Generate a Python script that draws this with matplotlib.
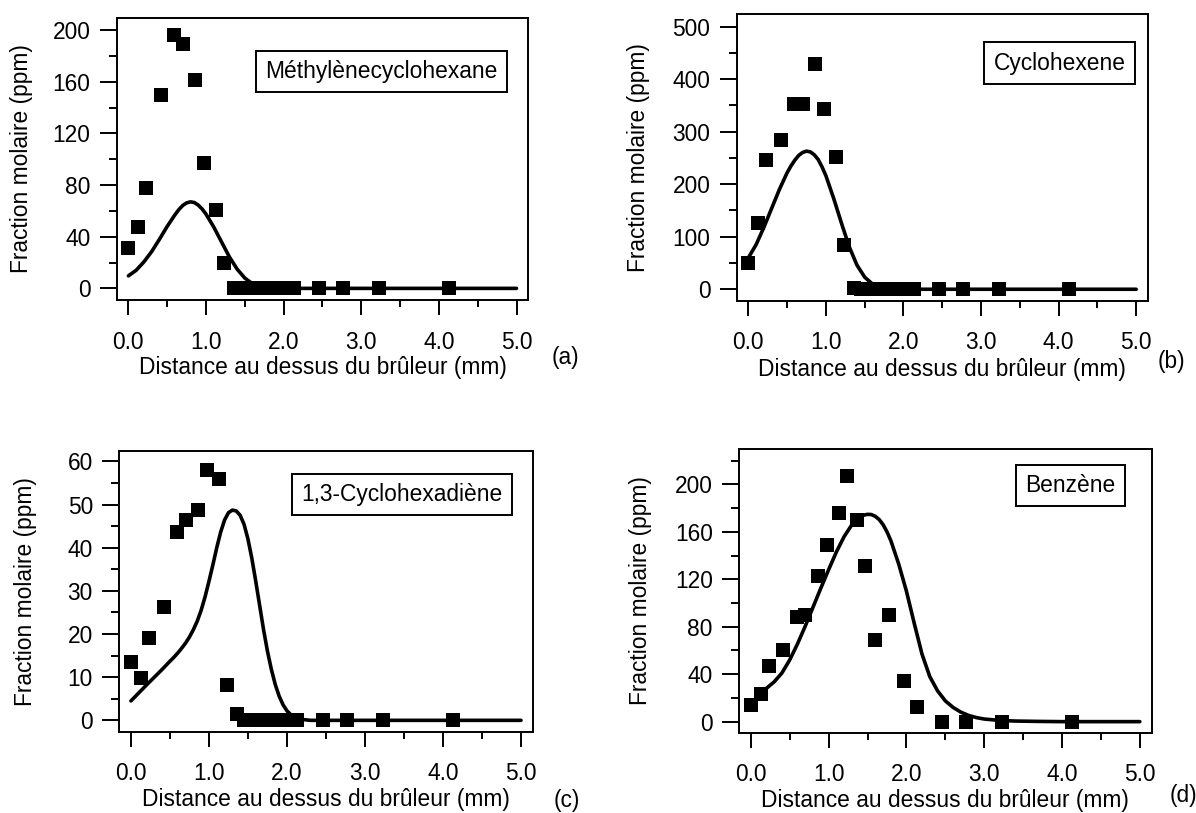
import matplotlib
matplotlib.use("Agg")
import matplotlib.pyplot as plt
from matplotlib.ticker import MultipleLocator, FormatStrFormatter

plt.rcParams['font.family'] = ['Liberation Sans', 'DejaVu Sans']
plt.rcParams['font.size'] = 16.4

# measured heights above the burner (mm)
x_c6 = [0.0, 0.13, 0.23, 0.42, 0.59, 0.70, 0.86, 0.98, 1.13, 1.23,
        1.36, 1.45, 1.55, 1.65, 1.75, 1.85, 1.95, 2.05, 2.13,
        2.46, 2.77, 3.23, 4.13]
x_benz = [0.0, 0.13, 0.23, 0.42, 0.59, 0.70, 0.86, 0.98, 1.13, 1.23,
          1.36, 1.47, 1.60, 1.78, 1.97, 2.13, 2.46, 2.77, 3.23, 4.13]

# experimental mole fractions (ppm)
methylenecyclohexane = [31.5, 47.7, 77.7, 150, 196, 189, 161.5, 97.4, 61, 19.5,
                        0, 0, 0, 0, 0, 0, 0, 0, 0,
                        0, 0, 0, 0]
cyclohexene = [50.6, 126.6, 247, 285, 352.5, 352.5, 429, 343, 252, 83.5,
               3, 0, 0, 0, 0, 0, 0, 0, 0,
               0, 0, 0, 0]
cyclohexadiene = [13.6, 9.7, 19, 26.2, 43.6, 46.3, 48.8, 58.1, 56, 8.2,
                  1.5, 0, 0, 0, 0, 0, 0, 0, 0,
                  0, 0, 0, 0]
benzene = [14, 23, 47, 60, 88.5, 90, 123, 149, 176, 207,
           170, 131.5, 69, 90, 34, 12, 0, 0, 0, 0]

# simulated profiles
x_sim_a = [0, 0.1, 0.2, 0.3, 0.4, 0.5, 0.6, 0.65, 0.7, 0.75, 0.8, 0.85, 0.9,
           0.95, 1.0, 1.1, 1.2, 1.3, 1.4, 1.5, 1.6, 1.7, 1.8, 1.9, 2.0, 5.0]
y_sim_a = [9.7, 14, 20.5, 28.5, 38, 48, 57, 61, 64.2, 66.2, 67, 66.5, 64.5,
           61.5, 57.5, 47.5, 36, 24.5, 15, 8, 3.5, 1.3, 0.4, 0.1, 0, 0]

x_sim_b = [0, 0.1, 0.2, 0.3, 0.4, 0.5, 0.55, 0.6, 0.65, 0.7, 0.75, 0.8, 0.85,
           0.9, 0.95, 1.0, 1.1, 1.2, 1.3, 1.4, 1.5, 1.6, 1.7, 1.8, 1.9, 2.0, 5.0]
y_sim_b = [60, 85, 118, 154, 190, 222, 235, 246, 255, 260.5, 263, 261.5, 256,
           247, 233, 216, 173, 126, 81, 46, 23, 10, 3.5, 1, 0.2, 0, 0]

x_sim_c = [0, 0.2, 0.4, 0.5, 0.55, 0.6, 0.65, 0.7, 0.75, 0.8, 0.85, 0.9, 0.95,
           1.0, 1.05, 1.1, 1.15, 1.2, 1.25, 1.3, 1.35, 1.4, 1.45, 1.5, 1.55,
           1.6, 1.65, 1.7, 1.75, 1.8, 1.85, 1.9, 1.95, 2.0, 2.05, 2.1, 2.2,
           2.3, 5.0]
y_sim_c = [4.5, 8.2, 11.8, 13.7, 14.6, 15.6, 16.7, 17.9, 19.3, 21.0, 23.0, 25.5, 28.6,
           32.2, 36.0, 40.0, 43.6, 46.4, 48.1, 48.7, 48.5, 47.5, 45.4, 42.0, 37.5,
           32.2, 26.6, 21.0, 16.0, 11.8, 8.3, 5.6, 3.6, 2.2, 1.3, 0.7, 0.2,
           0, 0]

x_sim_d = [0.15, 0.2, 0.3, 0.4, 0.5, 0.6, 0.7, 0.8, 0.9, 1.0, 1.1, 1.2, 1.3,
           1.35, 1.4, 1.45, 1.5, 1.55, 1.6, 1.65, 1.7, 1.75, 1.8, 1.9, 2.0,
           2.1, 2.2, 2.3, 2.4, 2.5, 2.6, 2.7, 2.8, 2.9, 3.0, 3.2, 3.4, 3.7, 4.0, 5.0]
y_sim_d = [25, 28, 33.5, 41, 52, 65.5, 80.5, 96.5, 112.5, 128, 143, 156, 166,
           169.5, 172.3, 174, 174.7, 174.5, 173, 170.3, 166, 160, 152.5, 133, 110,
           83, 57, 38, 26, 17.5, 12, 8, 5.2, 3.4, 2.2, 1.0, 0.5, 0.2, 0, 0]

species = ["Méthylènecyclohexane", "Cyclohexene", "1,3-Cyclohexadiène", "Benzène"]
letters = ["(a)", "(b)", "(c)", "(d)"]

fig = plt.figure(figsize=(11.96, 8.13), dpi=100)
W, H = 1196, 813

panels = [
    # axes rect, ylim, y major/minor step, legend centre (axes), letter (px), data
    ([0.0976, 0.631, 0.344, 0.347], (-9, 209.5), 40, 20, (0.643, 0.811), (565, 357),
     x_c6, methylenecyclohexane, x_sim_a, y_sim_a, -0.2035),
    ([0.616, 0.630, 0.3437, 0.3527], (-22, 524), 100, 50, (0.785, 0.829), (1171, 361),
     x_c6, cyclohexene, x_sim_b, y_sim_b, -0.212),
    ([0.0997, 0.100, 0.3457, 0.3453], (-2.63, 62.4), 10, 5, (0.684, 0.846), (567, 800),
     x_c6, cyclohexadiene, x_sim_c, y_sim_c, -0.200),
    ([0.618, 0.0988, 0.3448, 0.349], (-9.3, 229.8), 40, 20, (0.804, 0.870), (1183, 795),
     x_benz, benzene, x_sim_d, y_sim_d, -0.212),
]

for i, (rect, ylim, major, minor, leg, let_pos, x_exp, y_exp, xs, ys, ylab_x) in enumerate(panels):
    ax = fig.add_axes(rect)
    ax.plot(xs, ys, color='black', lw=2.6, solid_capstyle='round',
            solid_joinstyle='round', zorder=2)
    ax.plot(x_exp, y_exp, 's', color='black', ms=10.5, mew=0, zorder=3)

    ax.set_xlim(-0.15, 5.15)
    ax.set_ylim(*ylim)
    ax.xaxis.set_major_locator(MultipleLocator(1.0))
    ax.xaxis.set_minor_locator(MultipleLocator(0.5))
    ax.xaxis.set_major_formatter(FormatStrFormatter('%.1f'))
    ax.yaxis.set_major_locator(MultipleLocator(major))
    ax.yaxis.set_minor_locator(MultipleLocator(minor))

    for s in ax.spines.values():
        s.set_linewidth(1.4)
    ax.tick_params(axis='x', which='major', direction='out', length=11, width=1.4, pad=11)
    ax.tick_params(axis='x', which='minor', direction='out', length=5, width=1.4)
    ax.tick_params(axis='y', which='major', direction='out', length=12, width=1.4, pad=7)
    ax.tick_params(axis='y', which='minor', direction='out', length=6, width=1.4)

    ax.set_xlabel("Distance au dessus du brûleur (mm)")
    ax.set_ylabel("Fraction molaire (ppm)")
    ax.yaxis.set_label_coords(ylab_x, 0.5)
    ax.xaxis.set_label_coords(0.5, -0.2)

    ax.text(leg[0], leg[1], species[i], transform=ax.transAxes, ha='center', va='center',
            bbox=dict(boxstyle='square,pad=0.4', fc='white', ec='black', lw=1.4), zorder=5)

    fig.text(let_pos[0] / W, 1 - let_pos[1] / H, letters[i], ha='center', va='center')

fig.savefig("out.png", dpi=100)
